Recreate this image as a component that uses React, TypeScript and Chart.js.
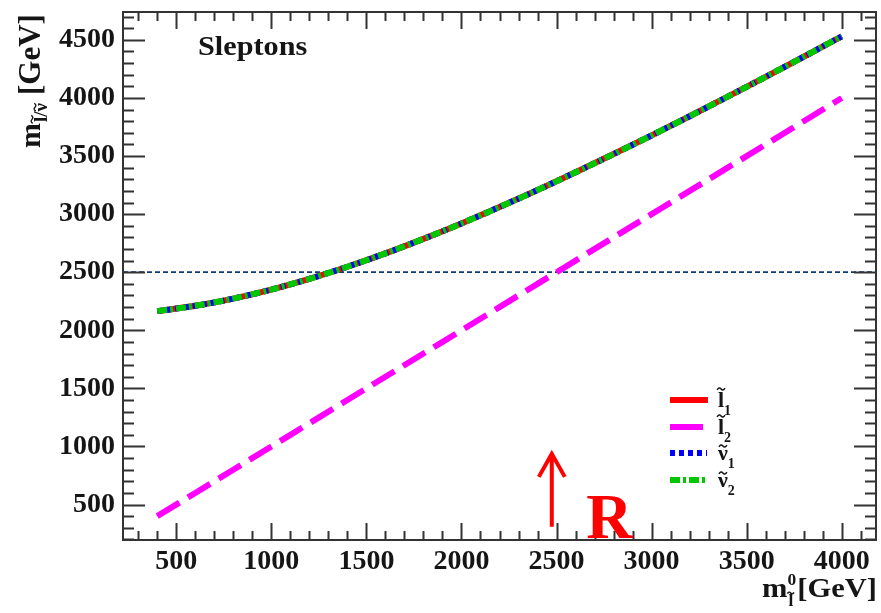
import { useEffect, useRef } from "react";
import { Chart, registerables } from "chart.js";

Chart.register(...registerables);

// Input mass m0 (GeV)
const m0Values = [400, 600, 800, 1000, 1200, 1400, 1600, 1800, 2000, 2200, 2400, 2600, 2800, 3000, 3200, 3400, 3600, 3800, 4000];

// Slepton / sneutrino masses (GeV)
const sleptonL1 = [2165, 2211, 2273, 2351, 2443, 2547, 2662, 2787, 2920, 3061, 3207, 3360, 3517, 3678, 3843, 4011, 4182, 4355, 4531];
const sleptonL2 = [400, 600, 800, 1000, 1200, 1400, 1600, 1800, 2000, 2200, 2400, 2600, 2800, 3000, 3200, 3400, 3600, 3800, 4000];
const sneutrino1 = [2165, 2211, 2273, 2351, 2443, 2547, 2662, 2787, 2920, 3061, 3207, 3360, 3517, 3678, 3843, 4011, 4182, 4355, 4531];
const sneutrino2 = [2165, 2211, 2273, 2351, 2443, 2547, 2662, 2787, 2920, 3061, 3207, 3360, 3517, 3678, 3843, 4011, 4182, 4355, 4531];

const xTickValues = [500, 1000, 1500, 2000, 2500, 3000, 3500, 4000];
const yTickValues = [500, 1000, 1500, 2000, 2500, 3000, 3500, 4000, 4500];

const X_MIN = 220;
const X_MAX = 4180;
const Y_MIN = 195;
const Y_MAX = 4740;

const referenceMass = 2500;
const markerMass = 2475;
const markerFrom = 310;
const markerTo = 945;
const markerLabelX = 2656;
const markerLabelY = 216;

const SERIF = "'Liberation Serif', 'Times New Roman', serif";
const INK = "#151515";
const FRAME = "#333333";

const RED = "#ff0000";
const MAGENTA = "#ff00ff";
const BLUE = "#0000ff";
const GREEN = "#00c800";

const toPoints = (ys: number[]) => m0Values.map((x, i) => ({ x, y: ys[i] }));

function drawTilde(ctx: CanvasRenderingContext2D, cx: number, cy: number, w: number, h: number) {
  ctx.save();
  ctx.beginPath();
  ctx.moveTo(cx - w / 2, cy + h * 0.35);
  ctx.quadraticCurveTo(cx - w / 4, cy - h, cx, cy);
  ctx.quadraticCurveTo(cx + w / 4, cy + h, cx + w / 2, cy - h * 0.35);
  ctx.lineWidth = 1.4;
  ctx.strokeStyle = INK;
  ctx.stroke();
  ctx.restore();
}

// Inner ticks on all four sides plus the closed frame
const frameTicks = {
  id: "frameTicks",
  afterDatasetsDraw(chart: any) {
    const { ctx, chartArea } = chart;
    const xs = chart.scales.x;
    const ys = chart.scales.y;
    const { left, right, top, bottom } = chartArea;
    ctx.save();
    ctx.strokeStyle = FRAME;
    ctx.lineWidth = 2;
    ctx.beginPath();
    for (let v = 300; v <= 4100; v += 100) {
      const px = Math.round(xs.getPixelForValue(v)) + 0.5;
      const len = v % 500 === 0 ? 17 : 9;
      ctx.moveTo(px, bottom);
      ctx.lineTo(px, bottom - len);
      ctx.moveTo(px, top);
      ctx.lineTo(px, top + len);
    }
    for (let v = 200; v <= 4700; v += 100) {
      const py = Math.round(ys.getPixelForValue(v)) + 0.5;
      const len = v % 500 === 0 ? 22 : 11;
      ctx.moveTo(left, py);
      ctx.lineTo(left + len, py);
      ctx.moveTo(right, py);
      ctx.lineTo(right - len, py);
    }
    ctx.stroke();
    ctx.strokeRect(left, top, right - left, bottom - top);
    ctx.restore();
  },
};

const decorations = {
  id: "decorations",
  afterDraw(chart: any) {
    const { ctx } = chart;
    const xs = chart.scales.x;
    const ys = chart.scales.y;
    ctx.save();
    ctx.fillStyle = INK;
    ctx.textBaseline = "alphabetic";
    ctx.textAlign = "left";

    // Plot label
    ctx.save();
    ctx.translate(198, 55);
    ctx.scale(1.12, 1);
    ctx.font = `bold 27px ${SERIF}`;
    ctx.fillText("Sleptons", 0, 0);
    ctx.restore();

    // Legend
    const legendRows = [
      { y: 400, color: RED, dash: [] as number[], sym: "l", sub: "1", len: 38 },
      { y: 427, color: MAGENTA, dash: [] as number[], sym: "l", sub: "2", len: 33 },
      { y: 453, color: BLUE, dash: [5, 4], sym: "ν", sub: "1", len: 37 },
      { y: 480, color: GREEN, dash: [10, 3, 3, 3], sym: "ν", sub: "2", len: 37 },
    ];
    legendRows.forEach((r) => {
      ctx.save();
      ctx.strokeStyle = r.color;
      ctx.lineWidth = 6;
      ctx.setLineDash(r.dash);
      ctx.beginPath();
      ctx.moveTo(670, r.y);
      ctx.lineTo(670 + r.len, r.y);
      ctx.stroke();
      ctx.restore();
      const base = r.y + 7;
      ctx.font = `bold 22px ${SERIF}`;
      ctx.fillText(r.sym, 718, base);
      const w = ctx.measureText(r.sym).width;
      drawTilde(ctx, 718 + w / 2, base - (r.sym === "l" ? 18 : 14), 8, 2.5);
      ctx.font = `bold 14px ${SERIF}`;
      ctx.fillText(r.sub, 718 + w, base + 8);
    });

    // Marker arrow at the reference mass
    const ax = xs.getPixelForValue(markerMass);
    const ay0 = ys.getPixelForValue(markerFrom);
    const ay1 = ys.getPixelForValue(markerTo);
    ctx.save();
    ctx.strokeStyle = RED;
    ctx.lineWidth = 4;
    ctx.lineCap = "butt";
    ctx.beginPath();
    ctx.moveTo(ax, ay0);
    ctx.lineTo(ax, ay1 + 1);
    ctx.moveTo(ax - 13, ay1 + 24);
    ctx.lineTo(ax, ay1 + 1);
    ctx.lineTo(ax + 13, ay1 + 24);
    ctx.stroke();
    ctx.fillStyle = RED;
    ctx.font = `bold 64px ${SERIF}`;
    ctx.fillText("R", xs.getPixelForValue(markerLabelX), ys.getPixelForValue(markerLabelY));
    ctx.restore();

    // x-axis title: m^0_l~ [GeV]
    ctx.save();
    ctx.translate(762, 597);
    ctx.scale(1.09, 1);
    ctx.font = `bold 28px ${SERIF}`;
    ctx.fillText("m", 0, 0);
    let cx = ctx.measureText("m").width;
    ctx.font = `bold 16px ${SERIF}`;
    ctx.fillText("0", cx, -12);
    ctx.fillText("l", cx + 1, 9);
    drawTilde(ctx, cx + 3, -4, 6, 2);
    cx += ctx.measureText("0").width + 1;
    ctx.font = `bold 28px ${SERIF}`;
    ctx.fillText("[GeV]", cx, 0);
    ctx.restore();

    // y-axis title: m_{l~/ν~} [GeV]
    ctx.save();
    ctx.translate(40, 148);
    ctx.rotate(-Math.PI / 2);
    ctx.font = `bold 30px ${SERIF}`;
    ctx.fillText("m", 0, 0);
    let tx = ctx.measureText("m").width + 1;
    ctx.font = `bold 19px ${SERIF}`;
    const subParts = ["l", "/", "ν"];
    subParts.forEach((p) => {
      ctx.fillText(p, tx, 7);
      const pw = ctx.measureText(p).width;
      if (p !== "/") drawTilde(ctx, tx + pw / 2, p === "l" ? -8 : -5, 8, 2);
      tx += pw;
    });
    tx += 8;
    ctx.font = `bold 31px ${SERIF}`;
    ctx.fillText("[GeV]", tx, 0);
    ctx.restore();

    ctx.restore();
  },
};

export default function App() {
  const canvasRef = useRef<HTMLCanvasElement | null>(null);

  useEffect(() => {
    if (!canvasRef.current) return;
    const lineBase = {
      pointRadius: 0,
      fill: false,
      cubicInterpolationMode: "monotone" as const,
      borderCapStyle: "butt" as const,
    };
    const chart = new Chart(canvasRef.current, {
      type: "line",
      data: {
        datasets: [
          { ...lineBase, label: "ν̃2", data: toPoints(sneutrino2), borderColor: GREEN, borderWidth: 6, borderDash: [10, 3, 3, 3] },
          { ...lineBase, label: "ν̃1", data: toPoints(sneutrino1), borderColor: BLUE, borderWidth: 6, borderDash: [5, 4] },
          { ...lineBase, label: "l̃1", data: toPoints(sleptonL1), borderColor: RED, borderWidth: 6 },
          { ...lineBase, label: "l̃2", data: toPoints(sleptonL2), borderColor: MAGENTA, borderWidth: 6, borderDash: [26, 10] },
          {
            ...lineBase,
            label: "reference",
            data: [
              { x: X_MIN, y: referenceMass },
              { x: X_MAX, y: referenceMass },
            ],
            borderColor: "#0c3a78",
            borderWidth: 1.8,
            borderDash: [5, 3],
          },
        ],
      },
      options: {
        animation: false,
        responsive: true,
        maintainAspectRatio: false,
        events: [],
        layout: { padding: { top: 12, right: 5, left: 0, bottom: 0 } },
        plugins: { legend: { display: false }, tooltip: { enabled: false } },
        scales: {
          x: {
            type: "linear",
            min: X_MIN,
            max: X_MAX,
            grid: { display: false, drawTicks: false },
            border: { display: false },
            afterBuildTicks: (s: any) => {
              s.ticks = xTickValues.map((value) => ({ value }));
            },
            afterFit: (s: any) => {
              s.height = 73;
              s.paddingLeft = 0;
              s.paddingRight = 0;
            },
            ticks: {
              padding: 5,
              color: INK,
              font: { family: SERIF, size: 28, weight: "bold" },
              callback: (v: any) => String(v),
              maxRotation: 0,
              autoSkip: false,
            },
          },
          y: {
            type: "linear",
            min: Y_MIN,
            max: Y_MAX,
            grid: { display: false, drawTicks: false },
            border: { display: false },
            afterBuildTicks: (s: any) => {
              s.ticks = yTickValues.map((value) => ({ value }));
            },
            afterFit: (s: any) => {
              s.width = 123;
              s.paddingTop = 0;
              s.paddingBottom = 0;
            },
            ticks: {
              padding: 8,
              color: INK,
              font: { family: SERIF, size: 28, weight: "bold" },
              callback: (v: any) => String(v),
              autoSkip: false,
            },
          },
        },
      },
      plugins: [frameTicks, decorations],
    });
    return () => chart.destroy();
  }, []);

  return (
    <div style={{ position: "fixed", left: 0, top: 0, width: 881, height: 613, background: "#ffffff" }}>
      <canvas ref={canvasRef} />
    </div>
  );
}
